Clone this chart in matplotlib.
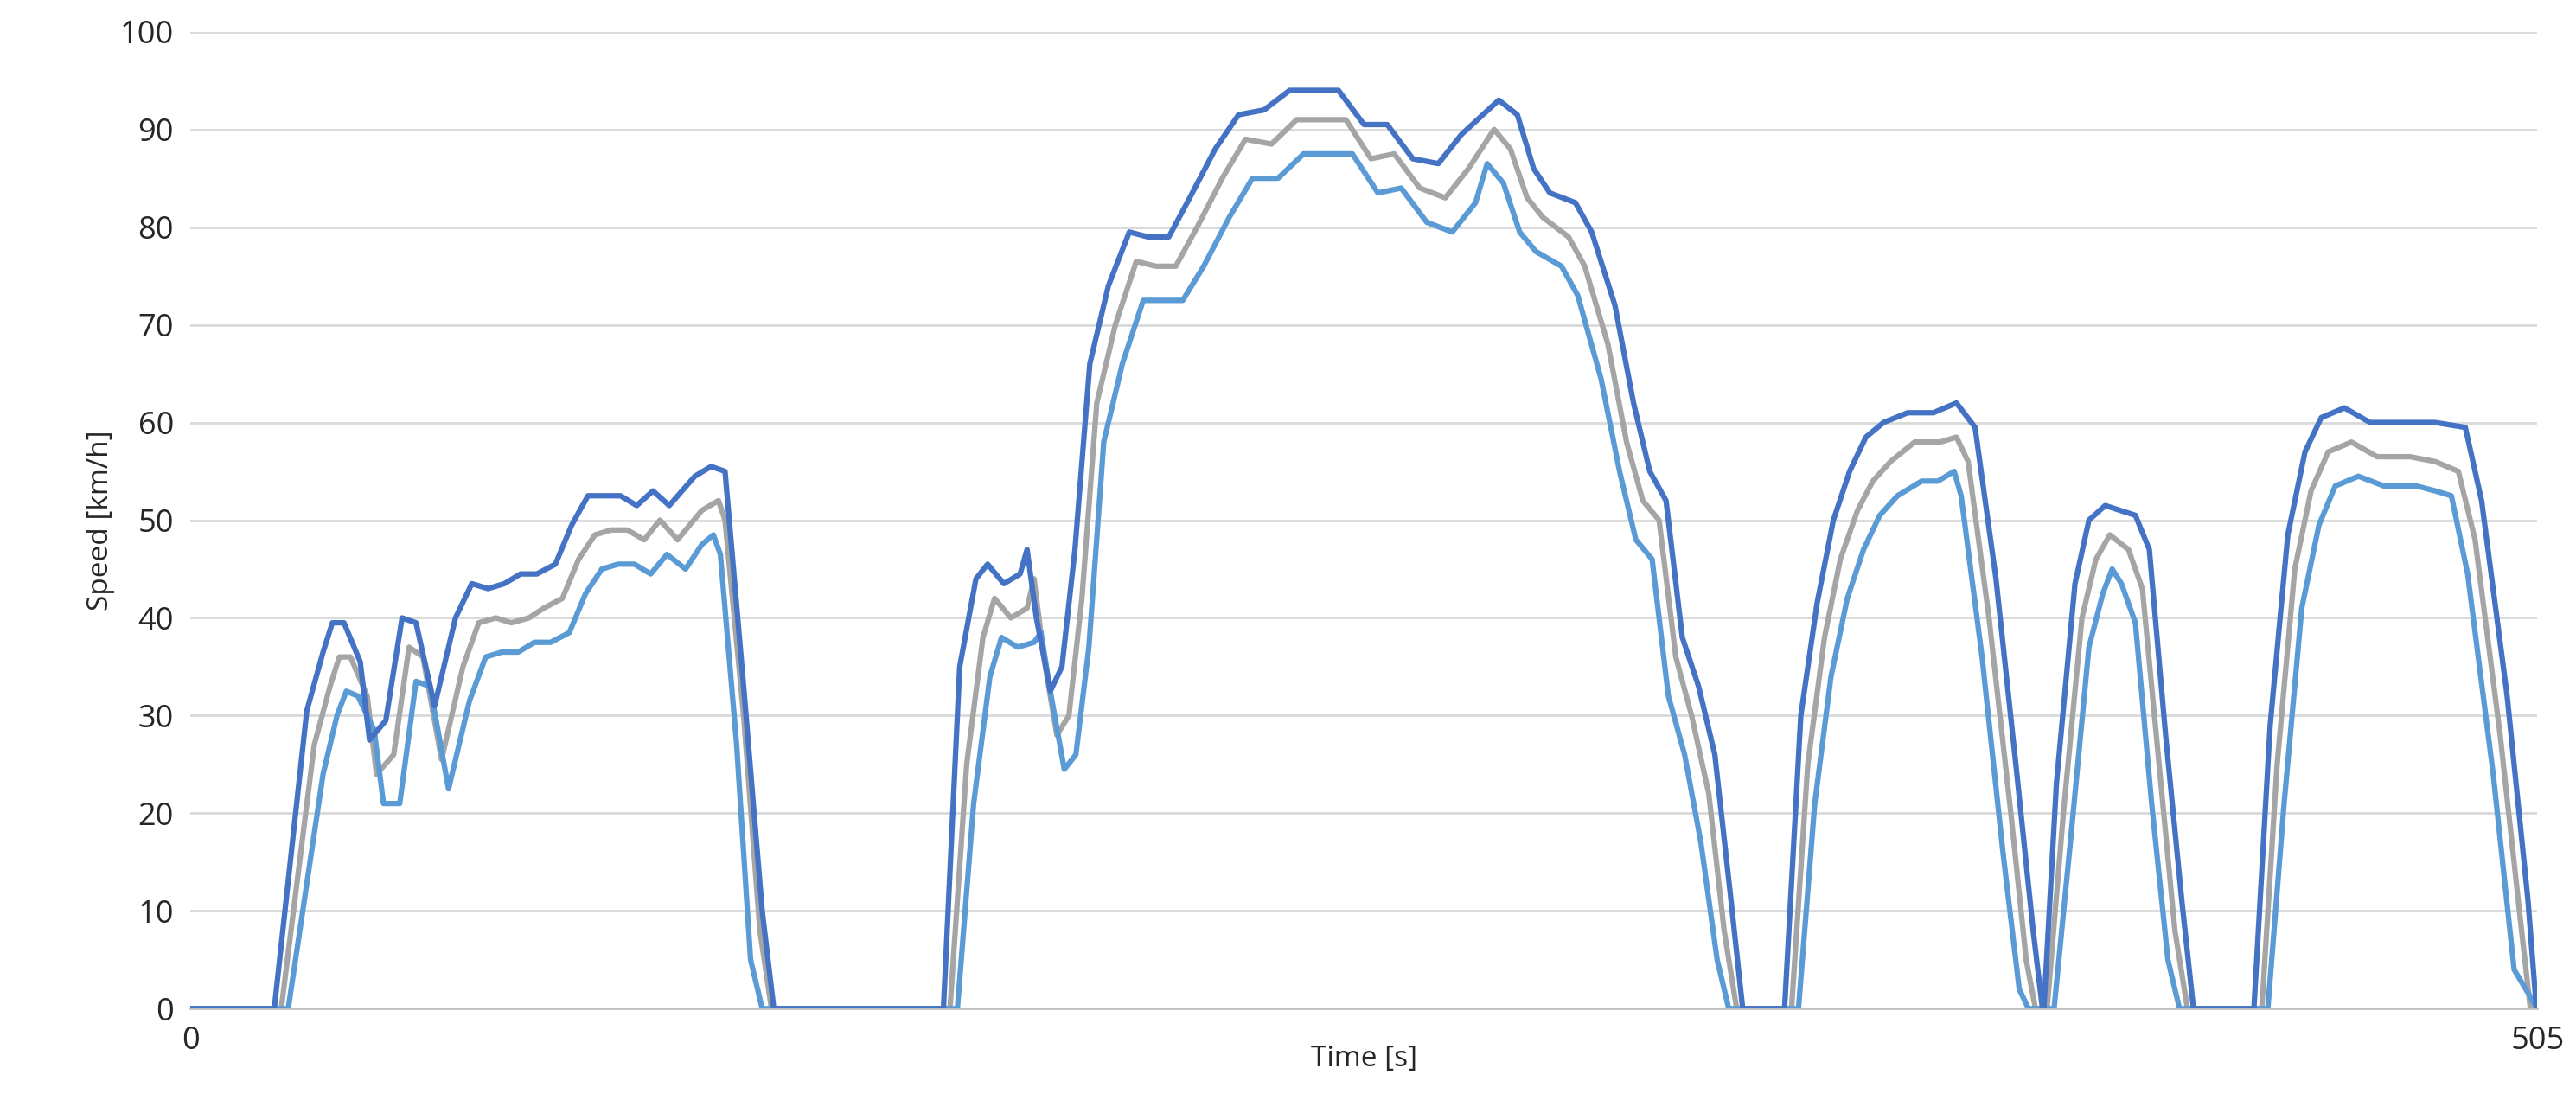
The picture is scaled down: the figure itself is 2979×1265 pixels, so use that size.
import matplotlib
matplotlib.use("Agg")
import matplotlib.pyplot as plt

# Middle (grey) trace
t_mid = [0,19.5,26.6,30,32,34.4,38,40,43.7,47,50,54,58.6,62,65.7,69,72.8,76,80,83.5,87,90.5,94,97.6,101,104.8,110,113.6,115,119,122.5,125,
         163.4,167,170.5,173,176.5,180,181.5,183.6,186.4,189,191.8,195,199,203.5,207.7,212,216.6,222,227,232.6,238,243,248.6,254,259,264.5,270,275,280.5,284,287.6,291,296.5,300,305,309,312.5,316,319.6,323,326.7,330,332.7,
         344.5,348,351.6,355,358.7,362,365.8,371,376.5,380,382.5,387,391.7,395,397,
         399.5,403,407,410,413,417,420,423.6,427,429.7,
         445.7,449,452.8,456.3,460,465,470.5,477.6,483,488,491.6,497,501.6,503.5,505]
v_mid = [0,0,27,33,36,36,32,24,26,37,36,25.5,35,39.5,40,39.5,40,41,42,46,48.5,49,49,48,50,48,51,52,50,30,8,0,
         0,25,38,42,40,41,44,36,28,30,42,62,70,76.5,76,76,80,85,89,88.5,91,91,91,87,87.5,84,83,86,90,88,83,81,79,76,68,58,52,50,36,30,22,8,0,
         0,25,38,46,51,54,56,58,58,58.5,56,40,20,5,0,
         0,20,40,46,48.5,47,43,25,8,0,
         0,25,45,53,57,58,56.5,56.5,56,55,48,28,8,0,0]

# Upper (dark blue) trace
t_up = [0,18,25,28.5,30.5,33,36.5,38.5,42,45.5,48.5,52.5,57,60.5,64,67.5,71,74.5,78.5,82,85.5,89,92.5,96,99.5,103,108.5,112,115,119,123,125.5,
        162,165.5,169,171.5,175,178.5,180,182,185,187.5,190.3,193.5,197.5,202,206,210.5,215,220.5,225.5,231,236.5,241.5,247,252.5,257.5,263,268.5,273.5,281.5,285.5,289,292.5,298,301.5,306.5,310.5,314,317.5,321,324.5,328,331.5,334,
        343,346.5,350,353.5,357,360.5,364.3,369.5,375,380,384,388.5,393,396.5,398.5,
        398.8,401.5,405.5,408.5,412,418.5,421.5,425,428.5,431,
        444,447.5,451.3,455,458.5,463.5,469,476,483,489.5,493,498.5,503,504.8,505]
v_up = [0,0,30.5,36.5,39.5,39.5,35.5,27.5,29.5,40,39.5,31,40,43.5,43,43.5,44.5,44.5,45.5,49.5,52.5,52.5,52.5,51.5,53,51.5,54.5,55.5,55,33,10,0,
        0,35,44,45.5,43.5,44.5,47,40,32.5,35,47,66,74,79.5,79,79,83,88,91.5,92,94,94,94,90.5,90.5,87,86.5,89.5,93,91.5,86,83.5,82.5,79.5,72,62,55,52,38,33,26,11,0,
        0,30,41.5,50,55,58.5,60,61,61,62,59.5,44,24,8,0,
        0,23,43.5,50,51.5,50.5,47,28,11,0,
        0,29,48.5,57,60.5,61.5,60,60,60,59.5,52,32,11,0,0]

# Lower (light blue) trace
t_lo = [0,21,28.5,31.5,33.5,36,39.5,41.5,45,48.5,51.5,55.5,60,63.5,67,70.5,74,77.5,81.5,85,88.5,92,95.5,99,102.5,106.5,110,112.5,114,117.5,120.5,123,
        165,168.5,172,174.5,178,181.5,183,185,188,190.5,193.3,196.5,200.5,205,209,213.5,218,223.5,228.5,234,239.5,244.5,250,255.5,260.5,266,271.5,276.5,279,282.5,286,289.5,295,298.5,303.5,307.5,311,314.5,318,321.5,325,328.5,331,
        346,349.5,353,356.5,360,363.5,367.3,372.5,376,379.5,381,385.5,390,393.5,395.5,
        401,404.5,408.5,411.5,413.5,415.5,418.5,422,425.5,428,
        447,450.5,454.3,458,461.5,466.5,472,479,483,486.5,490,495.5,500,505]
v_lo = [0,0,24,30,32.5,32,28.5,21,21,33.5,33,22.5,31.5,36,36.5,36.5,37.5,37.5,38.5,42.5,45,45.5,45.5,44.5,46.5,45,47.5,48.5,46.5,27,5,0,
        0,21,34,38,37,37.5,38.5,32.5,24.5,26,37,58,66,72.5,72.5,72.5,76,81,85,85,87.5,87.5,87.5,83.5,84,80.5,79.5,82.5,86.5,84.5,79.5,77.5,76,73,64.5,55,48,46,32,26,17,5,0,
        0,21,34,42,47,50.5,52.5,54,54,55,52.5,36,16,2,0,
        0,17,37,42.5,45,43.5,39.5,21,5,0,
        0,21,41,49.5,53.5,54.5,53.5,53.5,53,52.5,44.5,24,4,0]

plt.rcParams['font.family'] = ['Open Sans', 'DejaVu Sans']
fig = plt.figure(figsize=(29.79, 12.65), dpi=100)
ax = fig.add_axes([0.074, 0.078, 0.911, 0.893])
ax.plot(t_mid, v_mid, color='#A5A5A5', lw=4.5)
ax.plot(t_lo, v_lo, color='#5B9BD5', lw=4.5)
ax.plot(t_up, v_up, color='#4472C4', lw=4.5)
ax.set_xlim(0, 505)
ax.set_ylim(0, 100)
ax.set_yticks(range(0, 101, 10))
ax.set_xticks([0, 505])
ax.grid(axis='y', color='#D9D9D9', lw=2)
ax.set_axisbelow(True)
for s in ['top', 'right', 'left']:
    ax.spines[s].set_visible(False)
ax.spines['bottom'].set_color('#BFBFBF')
ax.spines['bottom'].set_linewidth(2)
ax.tick_params(axis='both', length=0, labelsize=26, pad=14, colors='#262626')
ax.set_xlabel('Time [s]', fontsize=24, labelpad=-10, color='#262626')
ax.set_ylabel('Speed [km/h]', fontsize=24, color='#262626')
fig.savefig('out.png', dpi=100)
